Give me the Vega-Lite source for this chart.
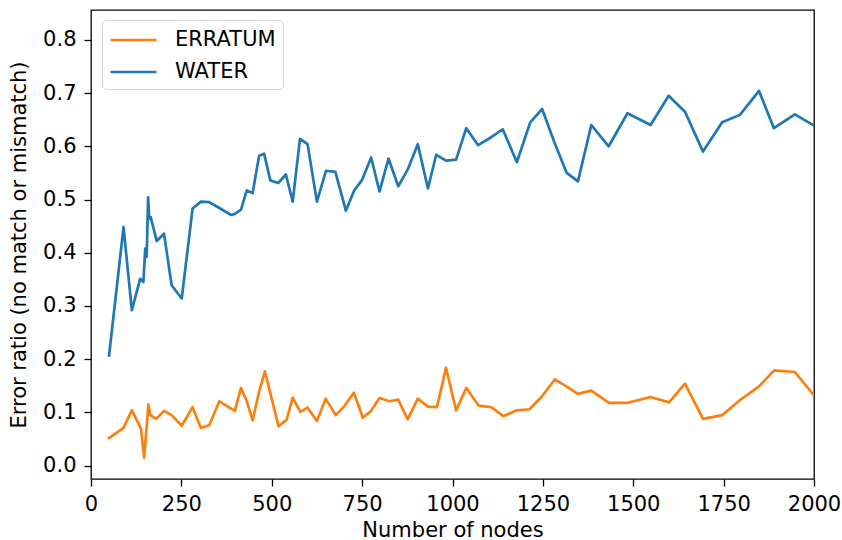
{
  "$schema": "https://vega.github.io/schema/vega-lite/v6.json",
  "autosize": "none",
  "width": 723,
  "height": 469,
  "padding": {"left": 91, "top": 10, "right": 28, "bottom": 61},
  "background": "white",
  "config": {
    "font": "DejaVu Sans",
    "view": {"stroke": "black", "strokeWidth": 1.3},
    "axis": {
      "grid": false,
      "domain": false,
      "tickColor": "black",
      "tickSize": 7,
      "tickWidth": 1.3,
      "labelFont": "DejaVu Sans",
      "labelFontSize": 21,
      "labelColor": "black",
      "labelFlush": false,
      "labelOverlap": false,
      "titleFont": "DejaVu Sans",
      "titleFontSize": 21,
      "titleFontWeight": "normal",
      "titleColor": "black"
    }
  },
  "data": {
    "values": [
      {"series": "WATER", "nodes": 50, "ratio": 0.207},
      {"series": "WATER", "nodes": 90, "ratio": 0.448},
      {"series": "WATER", "nodes": 113, "ratio": 0.292},
      {"series": "WATER", "nodes": 136, "ratio": 0.351},
      {"series": "WATER", "nodes": 145, "ratio": 0.345},
      {"series": "WATER", "nodes": 150, "ratio": 0.408},
      {"series": "WATER", "nodes": 154, "ratio": 0.392},
      {"series": "WATER", "nodes": 158, "ratio": 0.504},
      {"series": "WATER", "nodes": 161, "ratio": 0.464},
      {"series": "WATER", "nodes": 165, "ratio": 0.467},
      {"series": "WATER", "nodes": 182, "ratio": 0.422},
      {"series": "WATER", "nodes": 202, "ratio": 0.436},
      {"series": "WATER", "nodes": 223, "ratio": 0.339},
      {"series": "WATER", "nodes": 251, "ratio": 0.314},
      {"series": "WATER", "nodes": 281, "ratio": 0.483},
      {"series": "WATER", "nodes": 304, "ratio": 0.496},
      {"series": "WATER", "nodes": 327, "ratio": 0.495},
      {"series": "WATER", "nodes": 355, "ratio": 0.484},
      {"series": "WATER", "nodes": 387, "ratio": 0.471},
      {"series": "WATER", "nodes": 398, "ratio": 0.473},
      {"series": "WATER", "nodes": 415, "ratio": 0.481},
      {"series": "WATER", "nodes": 431, "ratio": 0.517},
      {"series": "WATER", "nodes": 447, "ratio": 0.512},
      {"series": "WATER", "nodes": 465, "ratio": 0.582},
      {"series": "WATER", "nodes": 479, "ratio": 0.586},
      {"series": "WATER", "nodes": 496, "ratio": 0.536},
      {"series": "WATER", "nodes": 518, "ratio": 0.531},
      {"series": "WATER", "nodes": 539, "ratio": 0.547},
      {"series": "WATER", "nodes": 558, "ratio": 0.496},
      {"series": "WATER", "nodes": 578, "ratio": 0.614},
      {"series": "WATER", "nodes": 599, "ratio": 0.604},
      {"series": "WATER", "nodes": 625, "ratio": 0.496},
      {"series": "WATER", "nodes": 650, "ratio": 0.554},
      {"series": "WATER", "nodes": 676, "ratio": 0.552},
      {"series": "WATER", "nodes": 705, "ratio": 0.479},
      {"series": "WATER", "nodes": 728, "ratio": 0.517},
      {"series": "WATER", "nodes": 750, "ratio": 0.537},
      {"series": "WATER", "nodes": 775, "ratio": 0.579},
      {"series": "WATER", "nodes": 798, "ratio": 0.515},
      {"series": "WATER", "nodes": 823, "ratio": 0.577},
      {"series": "WATER", "nodes": 850, "ratio": 0.525},
      {"series": "WATER", "nodes": 876, "ratio": 0.556},
      {"series": "WATER", "nodes": 904, "ratio": 0.604},
      {"series": "WATER", "nodes": 932, "ratio": 0.521},
      {"series": "WATER", "nodes": 955, "ratio": 0.584},
      {"series": "WATER", "nodes": 982, "ratio": 0.573},
      {"series": "WATER", "nodes": 1010, "ratio": 0.575},
      {"series": "WATER", "nodes": 1038, "ratio": 0.634},
      {"series": "WATER", "nodes": 1071, "ratio": 0.602},
      {"series": "WATER", "nodes": 1107, "ratio": 0.617},
      {"series": "WATER", "nodes": 1139, "ratio": 0.632},
      {"series": "WATER", "nodes": 1178, "ratio": 0.570},
      {"series": "WATER", "nodes": 1215, "ratio": 0.645},
      {"series": "WATER", "nodes": 1248, "ratio": 0.670},
      {"series": "WATER", "nodes": 1282, "ratio": 0.607},
      {"series": "WATER", "nodes": 1316, "ratio": 0.550},
      {"series": "WATER", "nodes": 1347, "ratio": 0.534},
      {"series": "WATER", "nodes": 1384, "ratio": 0.640},
      {"series": "WATER", "nodes": 1432, "ratio": 0.600},
      {"series": "WATER", "nodes": 1484, "ratio": 0.662},
      {"series": "WATER", "nodes": 1548, "ratio": 0.640},
      {"series": "WATER", "nodes": 1598, "ratio": 0.695},
      {"series": "WATER", "nodes": 1643, "ratio": 0.665},
      {"series": "WATER", "nodes": 1693, "ratio": 0.590},
      {"series": "WATER", "nodes": 1746, "ratio": 0.645},
      {"series": "WATER", "nodes": 1795, "ratio": 0.659},
      {"series": "WATER", "nodes": 1848, "ratio": 0.704},
      {"series": "WATER", "nodes": 1889, "ratio": 0.634},
      {"series": "WATER", "nodes": 1947, "ratio": 0.660},
      {"series": "WATER", "nodes": 2000, "ratio": 0.639},
      {"series": "ERRATUM", "nodes": 50, "ratio": 0.052},
      {"series": "ERRATUM", "nodes": 90, "ratio": 0.071},
      {"series": "ERRATUM", "nodes": 113, "ratio": 0.104},
      {"series": "ERRATUM", "nodes": 138, "ratio": 0.070},
      {"series": "ERRATUM", "nodes": 147, "ratio": 0.015},
      {"series": "ERRATUM", "nodes": 159, "ratio": 0.115},
      {"series": "ERRATUM", "nodes": 164, "ratio": 0.095},
      {"series": "ERRATUM", "nodes": 180, "ratio": 0.088},
      {"series": "ERRATUM", "nodes": 202, "ratio": 0.103},
      {"series": "ERRATUM", "nodes": 223, "ratio": 0.095},
      {"series": "ERRATUM", "nodes": 251, "ratio": 0.075},
      {"series": "ERRATUM", "nodes": 281, "ratio": 0.110},
      {"series": "ERRATUM", "nodes": 304, "ratio": 0.071},
      {"series": "ERRATUM", "nodes": 327, "ratio": 0.076},
      {"series": "ERRATUM", "nodes": 355, "ratio": 0.121},
      {"series": "ERRATUM", "nodes": 398, "ratio": 0.103},
      {"series": "ERRATUM", "nodes": 415, "ratio": 0.146},
      {"series": "ERRATUM", "nodes": 430, "ratio": 0.123},
      {"series": "ERRATUM", "nodes": 447, "ratio": 0.085},
      {"series": "ERRATUM", "nodes": 465, "ratio": 0.139},
      {"series": "ERRATUM", "nodes": 481, "ratio": 0.177},
      {"series": "ERRATUM", "nodes": 519, "ratio": 0.074},
      {"series": "ERRATUM", "nodes": 541, "ratio": 0.086},
      {"series": "ERRATUM", "nodes": 558, "ratio": 0.128},
      {"series": "ERRATUM", "nodes": 579, "ratio": 0.101},
      {"series": "ERRATUM", "nodes": 599, "ratio": 0.109},
      {"series": "ERRATUM", "nodes": 625, "ratio": 0.084},
      {"series": "ERRATUM", "nodes": 649, "ratio": 0.126},
      {"series": "ERRATUM", "nodes": 677, "ratio": 0.095},
      {"series": "ERRATUM", "nodes": 701, "ratio": 0.112},
      {"series": "ERRATUM", "nodes": 727, "ratio": 0.137},
      {"series": "ERRATUM", "nodes": 752, "ratio": 0.090},
      {"series": "ERRATUM", "nodes": 775, "ratio": 0.103},
      {"series": "ERRATUM", "nodes": 798, "ratio": 0.127},
      {"series": "ERRATUM", "nodes": 825, "ratio": 0.121},
      {"series": "ERRATUM", "nodes": 850, "ratio": 0.124},
      {"series": "ERRATUM", "nodes": 876, "ratio": 0.087},
      {"series": "ERRATUM", "nodes": 904, "ratio": 0.126},
      {"series": "ERRATUM", "nodes": 932, "ratio": 0.111},
      {"series": "ERRATUM", "nodes": 957, "ratio": 0.110},
      {"series": "ERRATUM", "nodes": 982, "ratio": 0.184},
      {"series": "ERRATUM", "nodes": 1010, "ratio": 0.104},
      {"series": "ERRATUM", "nodes": 1038, "ratio": 0.146},
      {"series": "ERRATUM", "nodes": 1072, "ratio": 0.113},
      {"series": "ERRATUM", "nodes": 1107, "ratio": 0.110},
      {"series": "ERRATUM", "nodes": 1141, "ratio": 0.093},
      {"series": "ERRATUM", "nodes": 1178, "ratio": 0.104},
      {"series": "ERRATUM", "nodes": 1213, "ratio": 0.106},
      {"series": "ERRATUM", "nodes": 1246, "ratio": 0.129},
      {"series": "ERRATUM", "nodes": 1283, "ratio": 0.162},
      {"series": "ERRATUM", "nodes": 1315, "ratio": 0.149},
      {"series": "ERRATUM", "nodes": 1347, "ratio": 0.135},
      {"series": "ERRATUM", "nodes": 1384, "ratio": 0.141},
      {"series": "ERRATUM", "nodes": 1433, "ratio": 0.118},
      {"series": "ERRATUM", "nodes": 1484, "ratio": 0.118},
      {"series": "ERRATUM", "nodes": 1548, "ratio": 0.129},
      {"series": "ERRATUM", "nodes": 1599, "ratio": 0.119},
      {"series": "ERRATUM", "nodes": 1643, "ratio": 0.154},
      {"series": "ERRATUM", "nodes": 1693, "ratio": 0.088},
      {"series": "ERRATUM", "nodes": 1746, "ratio": 0.095},
      {"series": "ERRATUM", "nodes": 1795, "ratio": 0.123},
      {"series": "ERRATUM", "nodes": 1848, "ratio": 0.149},
      {"series": "ERRATUM", "nodes": 1890, "ratio": 0.179},
      {"series": "ERRATUM", "nodes": 1947, "ratio": 0.176},
      {"series": "ERRATUM", "nodes": 2000, "ratio": 0.132}
    ]
  },
  "mark": {"type": "line", "strokeWidth": 2.7, "strokeJoin": "round", "strokeCap": "square", "clip": true},
  "encoding": {
    "x": {
      "field": "nodes",
      "type": "quantitative",
      "title": "Number of nodes",
      "scale": {"domain": [0, 2000], "nice": false, "zero": false},
      "axis": {"values": [0, 250, 500, 750, 1000, 1250, 1500, 1750, 2000], "format": "d", "labelPadding": 7, "titlePadding": 5}
    },
    "y": {
      "field": "ratio",
      "type": "quantitative",
      "title": "Error ratio (no match or mismatch)",
      "scale": {"domain": [-0.025, 0.856], "nice": false, "zero": false},
      "axis": {"values": [0, 0.1, 0.2, 0.3, 0.4, 0.5, 0.6, 0.7, 0.8], "format": ".1f", "labelPadding": 8, "titlePadding": 13}
    },
    "color": {
      "field": "series",
      "type": "nominal",
      "scale": {"domain": ["ERRATUM", "WATER"], "range": ["#ff7f0e", "#1f77b4"]},
      "legend": {
        "title": null,
        "orient": "none",
        "legendX": 11,
        "legendY": 10,
        "symbolType": "M-1,0H3",
        "symbolSize": 529,
        "symbolStrokeWidth": 2.7,
        "labelFontSize": 21,
        "labelFont": "DejaVu Sans",
        "labelColor": "black",
        "labelOffset": 40,
        "rowPadding": 9,
        "padding": 7,
        "strokeColor": "#d5d5d5",
        "fillColor": "white",
        "cornerRadius": 4
      }
    }
  }
}
